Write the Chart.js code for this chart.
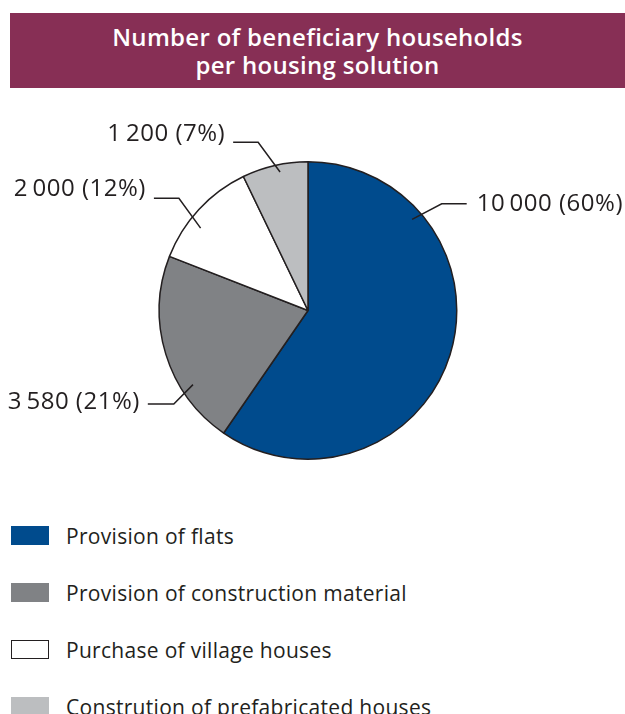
<!DOCTYPE html>
<html lang="en">
<head>
  <meta charset="UTF-8">
  <title>Number of beneficiary households per housing solution</title>
  <script src="https://cdn.jsdelivr.net/npm/chart.js"></script>
  <style>
    body { margin: 0; width: 625px; height: 714px; position: relative; overflow: hidden; background: #fff; font-family: "Open Sans", sans-serif; }
    .titulo { position: absolute; left: 10px; top: 13px; width: 615px; height: 75px; background: #872f55; color: #fff;
      font-size: 24px; line-height: 28px; letter-spacing: 0.3px; text-align: center; display: flex; align-items: center; justify-content: center; font-weight: 600; }
    #wrap { position: absolute; left: 0; top: 100px; width: 625px; height: 420px; }
    .leyenda { position: absolute; left: 11px; top: 526px; margin: 0; padding: 0; list-style: none; }
    .leyenda li { display: flex; align-items: center; height: 19px; margin-bottom: 38px; font-size: 21px; letter-spacing: 0.3px; color: #231f20; }
    .leyenda span.caja { width: 38px; height: 19px; box-sizing: border-box; margin-right: 17px; }
  </style>
</head>
<body>
  <div class="titulo">Number of beneficiary households<br>per housing solution</div>
  <div id="wrap"><canvas id="grafico"></canvas></div>
  <ul id="leyenda" class="leyenda"></ul>

  <script>
    const categorias = ['Provision of flats', 'Provision of construction material', 'Purchase of village houses', 'Constrution of prefabricated houses'];
    const hogares = [10000, 3580, 2000, 1200];
    const colores = ['#004b8d', '#808285', '#ffffff', '#bcbec0'];

    // where each leader line sits: angle from top (degrees, clockwise), radius ratio
    const guias = [
      { a1: 48.8, r1: 0.93, a2: 51.4, r2: 1.15, h: 25, dy: 0 },
      { a1: 237.2, r1: 0.92, a2: 235.1, r2: 1.10, h: -26, dy: -2 },
      { a1: 307.5, r1: 0.91, a2: 311, r2: 1.15, h: -25, dy: -9 },
      { a1: 348.6, r1: 0.95, a2: 343.5, r2: 1.18, h: -25, dy: -8 }
    ];

    function formatoNumero(n) {
      return String(n).replace(/\B(?=(\d{3})+(?!\d))/g, '\u2009');
    }

    const etiquetasPlugin = {
      id: 'etiquetas',
      afterDatasetsDraw(chart) {
        const ctx = chart.ctx;
        const total = hogares.reduce((s, v) => s + v, 0);
        const arcos = chart.getDatasetMeta(0).data;
        ctx.save();
        ctx.strokeStyle = '#231f20';
        ctx.lineWidth = 1.5;
        ctx.fillStyle = '#231f20';
        ctx.font = '24px "Open Sans"';
        ctx.letterSpacing = '0.5px';
        ctx.textBaseline = 'middle';
        arcos.forEach((arco, i) => {
          const g = guias[i];
          const r = arco.outerRadius;
          const p = (a, k) => {
            const rad = (a - 90) * Math.PI / 180;
            return [arco.x + Math.cos(rad) * r * k, arco.y + Math.sin(rad) * r * k];
          };
          const [x1, y1] = p(g.a1, g.r1);
          const [x2, y2] = p(g.a2, g.r2);
          const x3 = x2 + g.h;
          ctx.beginPath();
          ctx.moveTo(x1, y1);
          ctx.lineTo(x2, y2);
          ctx.lineTo(x3, y2);
          ctx.stroke();
          const texto = formatoNumero(hogares[i]) + ' (' + Math.round(hogares[i] / total * 100) + '%)';
          if (g.h > 0) {
            ctx.textAlign = 'left';
            ctx.fillText(texto, x3 + 10, y2 + g.dy);
          } else {
            ctx.textAlign = 'right';
            ctx.fillText(texto, x3 - 8, y2 + g.dy);
          }
        });
        ctx.restore();
      }
    };

    new Chart(document.getElementById('grafico'), {
      type: 'pie',
      data: {
        labels: categorias,
        datasets: [{
          data: hogares,
          backgroundColor: colores,
          borderColor: '#231f20',
          borderWidth: 1.5
        }]
      },
      options: {
        responsive: true,
        maintainAspectRatio: false,
        animation: false,
        layout: { padding: { left: 0, right: 9, top: 61, bottom: 60 } },
        plugins: {
          legend: { display: false },
          tooltip: { enabled: false }
        }
      },
      plugins: [etiquetasPlugin]
    });

    const lista = document.getElementById('leyenda');
    categorias.forEach((nombre, i) => {
      const li = document.createElement('li');
      const caja = document.createElement('span');
      caja.className = 'caja';
      caja.style.background = colores[i];
      if (colores[i] === '#ffffff') caja.style.border = '1.5px solid #231f20';
      li.appendChild(caja);
      li.appendChild(document.createTextNode(nombre));
      lista.appendChild(li);
    });
  </script>
</body>
</html>
